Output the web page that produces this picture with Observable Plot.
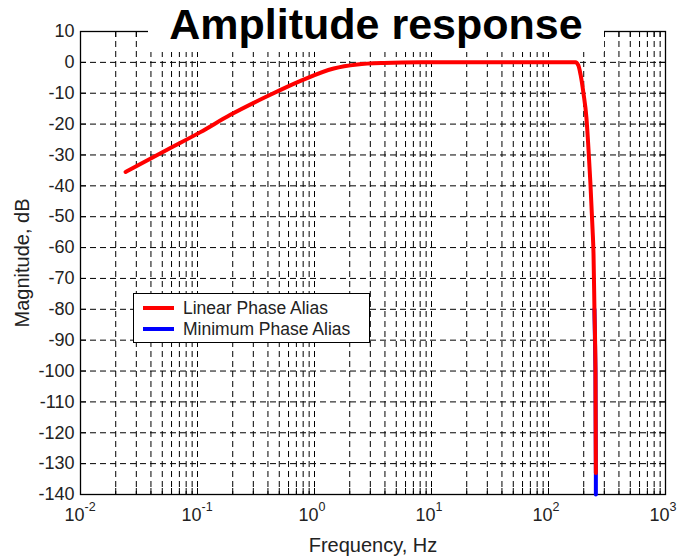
<!DOCTYPE html>
<html>
<head>
<meta charset="utf-8">
<script src="https://cdn.jsdelivr.net/npm/d3@7"></script>
<script src="https://cdn.jsdelivr.net/npm/@observablehq/plot@0.6"></script>
<style>
  html, body { margin: 0; padding: 0; background: #fff; }
  #wrap { position: relative; width: 681px; height: 557px; font-family: "Liberation Sans", Arial, sans-serif; }
  #title { position: absolute; left: 148px; top: 0; width: 456px; height: 52px; background: #fff;
           text-align: center; font-weight: bold; font-size: 43px; line-height: normal; padding-top: 0px; box-sizing: border-box; color: #000; }
  #legend { position: absolute; left: 133px; top: 293px; width: 237px; height: 50px; border: 1px solid #000;
            background: #fff; box-sizing: border-box; font-size: 17.5px; color: #222; }
  .row { position: absolute; left: 0; height: 20px; line-height: 20px; white-space: nowrap; }
  .sw { position: absolute; left: 9px; width: 31px; height: 4px; top: 8px; }
  .lab { position: absolute; left: 49px; top: 0; }
</style>
</head>
<body>
<div id="wrap"></div>
<script>
// ---- data ----
const decades = [0.01, 0.1, 1, 10, 100, 1000];
const decadeExp = ["-2", "-1", "0", "1", "2", "3"];
const minorMult = [2, 3, 4, 5, 6, 7, 8, 9];
const yTicks = [-140, -130, -120, -110, -100, -90, -80, -70, -60, -50, -40, -30, -20, -10, 0, 10];

// Linear Phase Alias (red)
const linFreq = [0.0243, 0.055, 0.106, 0.191, 0.394, 0.76, 1.46, 2.32, 3.9, 8, 20, 60, 170, 180, 188, 199, 211, 220, 228, 238, 242.5, 247, 252, 254];
const linDb   = [-35.5, -28.3, -22.6, -17, -11, -6, -2, -0.7, -0.2, 0, 0, 0, 0, -1, -4, -10, -18, -28.5, -39, -54, -62, -80, -100, -133];
// Minimum Phase Alias (blue), visible only below the red curve's end
const minFreq = [247, 252, 254, 254];
const minDb   = [-80, -100, -133, -140];

const seriesNames = ["Linear Phase Alias", "Minimum Phase Alias"];
const seriesColors = ["#ff0000", "#0000ff"];

// ---- derived ----
const lin = linFreq.map((f, i) => ({f, db: linDb[i]}));
const mn = minFreq.map((f, i) => ({f, db: minDb[i]}));
const xGrid = [];
decades.slice(0, -1).forEach((d, i) => {
  if (i > 0) xGrid.push(d);
  minorMult.forEach(m => xGrid.push(d * m));
});
const xTickAll = [...xGrid];
const yInner = yTicks.filter(v => v > -140 && v < 10);
const decLabels = decades.map((d, i) => ({d, e: decadeExp[i]}));

const W = 681, H = 557, mL = 80, mR = 16, mT = 31, mB = 63;
const fh = H - mT - mB;
const dash = "6,4";
const font = "Liberation Sans, Arial, sans-serif";

const chart = Plot.plot({
  width: W, height: H,
  marginLeft: mL, marginRight: mR, marginTop: mT, marginBottom: mB,
  style: {fontFamily: font, background: "#fff", color: "#222"},
  x: {type: "log", domain: [0.01, 1000], axis: null},
  y: {domain: [-140, 10], axis: null},
  marks: [
    Plot.ruleX(xGrid, {x: d => d, stroke: "#000", strokeWidth: 1, strokeDasharray: dash, strokeOpacity: 1}),
    Plot.ruleY(yInner, {y: d => d, stroke: "#000", strokeWidth: 1, strokeDasharray: dash, strokeOpacity: 1}),
    // inner ticks bottom/top
    Plot.ruleX(xTickAll, {x: d => d, insetTop: fh - 6, stroke: "#000", strokeWidth: 1}),
    Plot.ruleX(xTickAll, {x: d => d, insetBottom: fh - 6, stroke: "#000", strokeWidth: 1}),
    // inner ticks left/right
    Plot.ruleY(yInner, {y: d => d, insetRight: (W - mL - mR) - 6, stroke: "#000", strokeWidth: 1}),
    Plot.ruleY(yInner, {y: d => d, insetLeft: (W - mL - mR) - 6, stroke: "#000", strokeWidth: 1}),
    Plot.frame({stroke: "#000", strokeWidth: 1.3}),
    Plot.line(mn, {x: "f", y: "db", stroke: seriesColors[1], strokeWidth: 4, curve: "linear"}),
    Plot.line(lin, {x: "f", y: "db", stroke: seriesColors[0], strokeWidth: 4, curve: "monotone-x"}),
    // y tick labels
    Plot.text(yTicks, {y: d => d, frameAnchor: "left", dx: -6, textAnchor: "end", lineAnchor: "middle", text: d => String(d), fontSize: 18, fill: "#222"}),
    // x tick labels: base and exponent
    Plot.text(decLabels, {x: "d", frameAnchor: "bottom", dy: 21, dx: 4, textAnchor: "end", lineAnchor: "middle", text: () => "10", fontSize: 18, fill: "#222"}),
    Plot.text(decLabels, {x: "d", frameAnchor: "bottom", dy: 12, dx: 4, textAnchor: "start", lineAnchor: "middle", text: "e", fontSize: 12.5, fill: "#222"}),
    // axis titles
    Plot.text(["Frequency, Hz"], {frameAnchor: "bottom", dy: 51, textAnchor: "middle", lineAnchor: "middle", text: d => d, fontSize: 20, fill: "#222"}),
    Plot.text(["Magnitude, dB"], {frameAnchor: "left", dx: -58, rotate: -90, textAnchor: "middle", lineAnchor: "middle", text: d => d, fontSize: 20, fill: "#222"})
  ]
});

const wrap = document.getElementById("wrap");
wrap.appendChild(chart);

const title = document.createElement("div");
title.id = "title";
title.textContent = "Amplitude response";
wrap.appendChild(title);

const legend = document.createElement("div");
legend.id = "legend";
seriesNames.forEach((name, i) => {
  const row = document.createElement("div");
  row.className = "row";
  row.style.top = (4 + i * 21) + "px";
  row.style.width = "100%";
  const sw = document.createElement("div");
  sw.className = "sw";
  sw.style.background = seriesColors[i];
  const lab = document.createElement("span");
  lab.className = "lab";
  lab.textContent = name;
  row.appendChild(sw);
  row.appendChild(lab);
  legend.appendChild(row);
});
wrap.appendChild(legend);
</script>
</body>
</html>
